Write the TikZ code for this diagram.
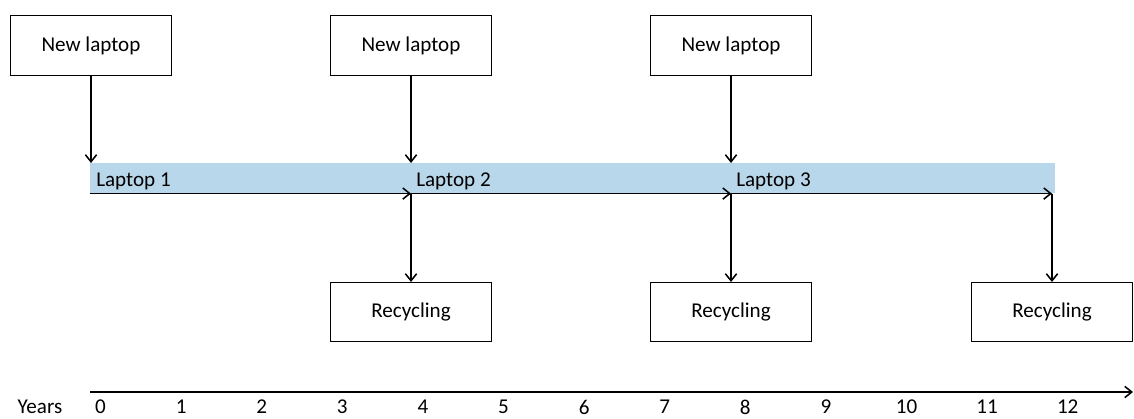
\documentclass[tikz,border=0pt]{standalone}
\usepackage{fontspec}
\setmainfont{Carlito}
\usetikzlibrary{arrows.meta}
\definecolor{barblue}{RGB}{185,215,234}
\begin{document}
\begin{tikzpicture}[x=0.025cm, y=-0.025cm, font=\fontsize{15}{18}\selectfont]
  \tikzstyle{boxnode}=[draw, line width=0.7pt, minimum width=4cm, minimum height=1.475cm, inner sep=0pt]
  \tikzstyle{arr}=[draw, line width=1.1pt, -{Straight Barb[length=5pt, width=8pt]}]
  \tikzstyle{tick}=[inner sep=0pt, anchor=center]
  \useasboundingbox (0,0) rectangle (1134,419);
  % blue bar
  \node[fill=barblue, minimum width=24.1cm, minimum height=0.75cm, inner sep=0pt, anchor=north west] (bar) at (90,163) {};
  \node[anchor=west, inner sep=0pt] (l1) at (96,181) {Laptop 1};
  \node[anchor=west, inner sep=0pt] (l2) at (416,181) {Laptop 2};
  \node[anchor=west, inner sep=0pt] (l3) at (736,181) {Laptop 3};
  % boxes
  \node[boxnode] (new1) at (91,45.5) {New laptop};
  \node[boxnode] (new2) at (411,45.5) {New laptop};
  \node[boxnode] (new3) at (731,45.5) {New laptop};
  \node[boxnode] (rec1) at (411,312) {Recycling};
  \node[boxnode] (rec2) at (731,312) {Recycling};
  \node[boxnode] (rec3) at (1052,312) {Recycling};
  % points on the bar
  \coordinate (top1) at (new1.south |- bar.north);
  \coordinate (top2) at (new2.south |- bar.north);
  \coordinate (top3) at (new3.south |- bar.north);
  \coordinate (start) at (bar.south west);
  \coordinate (end1) at (rec1.north |- bar.south);
  \coordinate (end2) at (rec2.north |- bar.south);
  \coordinate (end3) at (rec3.north |- bar.south);
  \path[arr] (new1) -- (top1);
  \path[arr] (new2) -- (top2);
  \path[arr] (new3) -- (top3);
  \path[arr] (start) -- (end1);
  \path[arr] (end1) -- (end2);
  \path[arr] (end2) -- (end3);
  \path[arr] (end1) -- (rec1);
  \path[arr] (end2) -- (rec2);
  \path[arr] (end3) -- (rec3);
  % time axis
  \coordinate (ax0) at (90,392);
  \coordinate (ax1) at (1133,392);
  \path[arr] (ax0) -- (ax1);
  \node[tick] (years) at (40,407) {Years};
  \foreach \yr in {0,...,12}
    \node[tick] (y\yr) at (100.5+80.6*\yr,407) {\yr};
\end{tikzpicture}
\end{document}
